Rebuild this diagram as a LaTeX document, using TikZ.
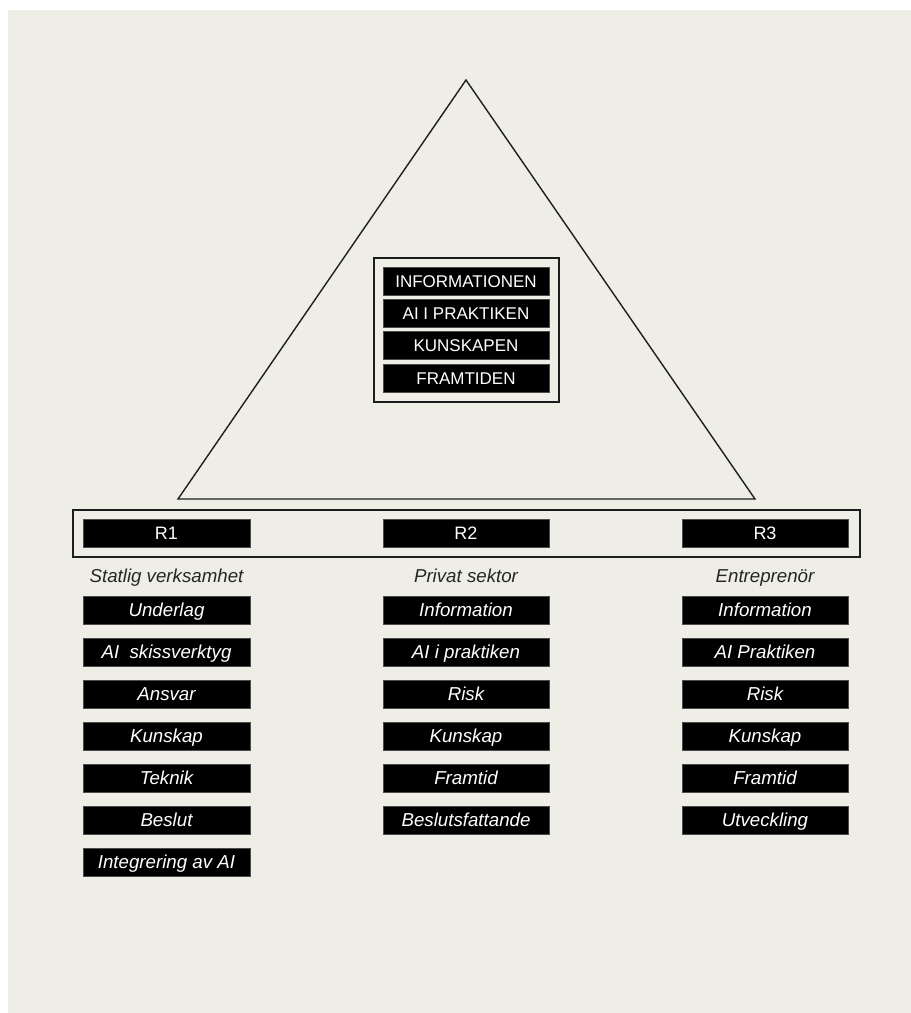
\documentclass[tikz,border=0pt]{standalone}
\usepackage{fontspec}
\setmainfont{Liberation Sans}
\definecolor{bg}{HTML}{EEEDE6}
\definecolor{lbl}{HTML}{262626}
\definecolor{edge}{HTML}{1E1E1E}
\begin{document}
\begin{tikzpicture}[x=1pt,y=-1pt,
  blk/.style={fill=black,draw=black!70,line width=0.6pt,minimum width=166pt,minimum height=28pt,inner sep=0pt,text height=12.2pt,text depth=0pt,text=white,font=\fontsize{17}{20}\selectfont},
  rblk/.style={blk,text height=12.9pt,font=\fontsize{18}{21}\selectfont},
  iblk/.style={blk,text height=13.4pt,text depth=0pt,font=\fontsize{18.7}{22}\selectfont\itshape},
  cat/.style={text=lbl,inner sep=0pt,text height=13.4pt,text depth=0pt,font=\fontsize{18.7}{22}\selectfont\itshape},
  frame/.style={draw=edge,line width=1.4pt}]
\useasboundingbox (0,0) rectangle (911,1013);
\fill[white] (0,0) rectangle (911,1013);
\fill[bg] (8,10) rectangle (911,1013);
% triangle
\coordinate (apex) at (466,80);
\coordinate (bl) at (178,499);
\coordinate (br) at (755,499);
\draw[frame,line join=miter] (apex) -- (bl) -- (br) -- cycle;
% inner box
\draw[frame] (374,258) rectangle (559,402);
\node[blk] (t1) at (466,281.5) {INFORMATIONEN};
\node[blk] (t2) at (466,313.5) {AI I PRAKTIKEN};
\node[blk] (t3) at (466,345.5) {KUNSKAPEN};
\node[blk] (t4) at (466,378) {FRAMTIDEN};
% R box
\draw[frame] (73,510) rectangle (860,557);
\node[rblk,minimum width=167pt] (r1) at (166.5,533) {R1};
\node[rblk] (r2) at (466,533) {R2};
\node[rblk] (r3) at (765,533) {R3};
% categories
\node[cat] (c1) at (166.5,576) {Statlig verksamhet};
\node[cat] (c2) at (466,576) {Privat sektor};
\node[cat] (c3) at (765,576) {Entreprenör};
% column 1
\node[iblk,minimum width=167pt] (a1) at (166.5,610) {Underlag};
\node[iblk,minimum width=167pt] (a2) at (166.5,652) {AI\ \ skissverktyg};
\node[iblk,minimum width=167pt] (a3) at (166.5,694) {Ansvar};
\node[iblk,minimum width=167pt] (a4) at (166.5,736) {Kunskap};
\node[iblk,minimum width=167pt] (a5) at (166.5,778) {Teknik};
\node[iblk,minimum width=167pt] (a6) at (166.5,820) {Beslut};
\node[iblk,minimum width=167pt] (a7) at (166.5,862) {Integrering av AI};
% column 2
\node[iblk] (b1) at (466,610) {Information};
\node[iblk] (b2) at (466,652) {AI i praktiken};
\node[iblk] (b3) at (466,694) {Risk};
\node[iblk] (b4) at (466,736) {Kunskap};
\node[iblk] (b5) at (466,778) {Framtid};
\node[iblk] (b6) at (466,820) {Beslutsfattande};
% column 3
\node[iblk] (d1) at (765,610) {Information};
\node[iblk] (d2) at (765,652) {AI Praktiken};
\node[iblk] (d3) at (765,694) {Risk};
\node[iblk] (d4) at (765,736) {Kunskap};
\node[iblk] (d5) at (765,778) {Framtid};
\node[iblk] (d6) at (765,820) {Utveckling};
\end{tikzpicture}
\end{document}
